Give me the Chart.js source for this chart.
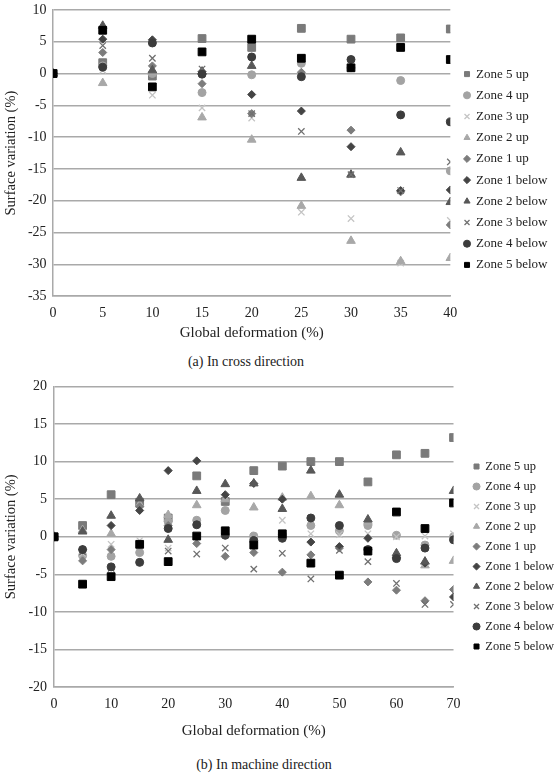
<!DOCTYPE html>
<html>
<head>
<meta charset="utf-8">
<script src="https://cdn.jsdelivr.net/npm/chart.js@4/dist/chart.umd.min.js"></script>
<style>
  body { margin: 0; background: #fff; width: 556px; height: 773px; position: relative; overflow: hidden; }
  .box { position: absolute; left: 0; width: 556px; }
  .caption { position: absolute; font-family: 'Liberation Serif', serif; font-size: 14px; color: #222; white-space: nowrap; transform: translateX(-50%); }
</style>
</head>
<body>
<div class="box" style="top:-5px;height:349px"><canvas id="crossChart"></canvas></div>
<div class="caption" style="left:246px;top:354px">(a) In cross direction</div>
<div class="box" style="top:371px;height:371px"><canvas id="machineChart"></canvas></div>
<div class="caption" style="left:264px;top:757px">(b) In machine direction</div>
<script>
const zoneNames = ['Zone 5 up', 'Zone 4 up', 'Zone 3 up', 'Zone 2 up', 'Zone 1 up',
    'Zone 1 below', 'Zone 2 below', 'Zone 3 below', 'Zone 4 below', 'Zone 5 below'];

// (a) cross direction
const crossX = [0, 5, 10, 15, 20, 25, 30, 35, 40];
const crossZone5Up    = [0, 1.7, -0.4, 5.5, 4.1, 7.1, 5.4, 5.6, 7.0];
const crossZone4Up    = [0, 1.2, 0.0, -3.0, -0.2, 1.6, 0.9, -1.1, -15.3];
const crossZone3Up    = [0, 0.5, -3.4, -5.4, -7.0, -21.8, -22.8, -29.8, -23.1];
const crossZone2Up    = [0, -1.5, 0.2, -6.9, -10.4, -20.8, -26.3, -29.5, -29.0];
const crossZone1Up    = [0, 3.3, 1.2, -1.6, -6.3, 0.2, -8.9, -18.6, -23.8];
const crossZone1Below = [0, 5.4, 5.3, 0.3, -3.3, -5.9, -11.5, -18.4, -18.3];
const crossZone2Below = [0, 7.5, 0.5, 0.3, 1.2, -16.4, -15.9, -12.4, -20.2];
const crossZone3Below = [0, 4.4, 2.4, 0.7, -6.3, -9.1, -15.9, -18.4, -13.9];
const crossZone4Below = [0, 1.0, 4.8, -0.1, 2.6, -0.5, 2.2, -6.5, -7.6];
const crossZone5Below = [0, 6.8, -2.1, 3.4, 5.4, 2.4, 0.9, 4.1, 2.2];

// (b) machine direction
const machineX = [0, 5, 10, 15, 20, 25, 30, 35, 40, 45, 50, 55, 60, 65, 70];
const machineZone5Up    = [0, 1.5, 5.6, 4.6, 2.5, 8.1, 4.7, 8.8, 9.4, 10.0, 10.0, 7.3, 10.9, 11.1, 13.2];
const machineZone4Up    = [0, -2.5, -2.6, -2.1, 2.0, 2.2, 3.5, 0.1, 0.3, 1.5, 0.8, 1.5, 0.2, -1.1, 0.0];
const machineZone3Up    = [0, -2.2, -1.0, -0.5, -1.5, -0.5, 0.5, -0.3, 2.2, 0.4, 0.3, 0.4, 0.0, 0.1, 0.4];
const machineZone2Up    = [0, 0.9, 0.4, 4.3, 2.9, 4.2, 5.0, 3.9, 5.2, 5.4, 4.2, 2.0, -2.5, -3.8, -3.2];
const machineZone1Up    = [0, -3.2, -1.7, 4.0, 1.5, -0.9, -2.6, -2.1, -4.7, -2.4, -1.5, -6.0, -7.1, -8.5, -7.0];
const machineZone1Below = [0, -1.7, 1.5, 3.5, 8.8, 10.1, 5.6, 7.1, 5.0, -0.7, -1.3, -0.2, -2.8, -3.5, -8.0];
const machineZone2Below = [0, 0.7, 2.8, 5.1, -0.4, 6.1, 7.0, 7.1, 3.7, 8.8, 5.6, 2.3, -2.2, -3.3, 6.1];
const machineZone3Below = [0, -2.0, -4.2, -1.0, -1.9, -2.3, -1.5, -4.3, -2.2, -5.6, -1.8, -3.3, -6.2, -9.0, -9.0];
const machineZone4Below = [0, -1.7, -4.0, -3.4, 1.1, 1.6, 0.2, -0.5, -0.2, 2.5, 1.5, -1.7, -2.9, -1.5, -0.4];
const machineZone5Below = [0, -6.3, -5.3, -1.0, -3.3, 0.1, 0.8, -1.1, 0.4, -3.5, -5.1, -1.9, 3.3, 1.1, 4.5];

// marker look per zone, same order as zoneNames
const markers = [
    { style: 'rect',     color: '#7a7a7a', r: 5.5 },
    { style: 'circle',   color: '#a3a3a3', r: 4 },
    { style: 'crossRot', color: '#c4c4c4', r: 4.5 },
    { style: 'triangle', color: '#a8a8a8', r: 5 },
    { style: 'rectRot',  color: '#7c7c7c', r: 4 },
    { style: 'rectRot',  color: '#444444', r: 4 },
    { style: 'triangle', color: '#585858', r: 5 },
    { style: 'crossRot', color: '#707070', r: 4.5 },
    { style: 'circle',   color: '#3c3c3c', r: 4 },
    { style: 'rect',     color: '#000000', r: 5.5 }
];

const serif = "'Liberation Serif', 'Times New Roman', serif";
const gridColor = '#a9a9a9';

// nudge the legend right, away from the plot, after layout
const legendShift = {
    id: 'legendShift',
    afterLayout(chart, args, opts) {
        chart.legend.left += opts.dx;
        chart.legend.right += opts.dx;
    }
};

function buildDatasets(xs, series) {
    return series.map((vals, i) => ({
        label: zoneNames[i],
        data: vals.map((v, j) => ({ x: xs[j], y: v })),
        pointStyle: markers[i].style,
        pointRadius: markers[i].r,
        backgroundColor: markers[i].color,
        borderColor: markers[i].color,
        borderWidth: markers[i].style === 'crossRot' ? 1.3 : 1,
        showLine: false,
        order: 10 - i
    }));
}

function makeChart(id, xs, series, cfg) {
    new Chart(document.getElementById(id), {
        type: 'scatter',
        data: { datasets: buildDatasets(xs, series) },
        plugins: [legendShift],
        options: {
            responsive: true,
            maintainAspectRatio: false,
            animation: false,
            layout: { padding: { top: 0, right: cfg.padRight, bottom: 0, left: 0 } },
            plugins: {
                tooltip: { enabled: false },
                legendShift: { dx: cfg.legendDx },
                legend: {
                    position: 'right',
                    align: 'center',
                    labels: {
                        usePointStyle: true,
                        boxWidth: 5,
                        boxHeight: 5,
                        padding: cfg.legendPad,
                        color: '#222',
                        font: { family: serif, size: cfg.legendFont },
                        sort: (a, b) => a.datasetIndex - b.datasetIndex
                    }
                }
            },
            scales: {
                x: {
                    type: 'linear',
                    min: cfg.xMin, max: cfg.xMax,
                    afterFit: s => { s.height -= 7; },
                    grid: { display: false, drawTicks: false },
                    border: { display: true, color: gridColor, width: 1.5 },
                    ticks: { stepSize: cfg.xStep, color: '#222', padding: 9, font: { family: serif, size: 14 } },
                    title: { display: true, text: 'Global deformation (%)', color: '#222',
                             padding: { top: cfg.titleTop, bottom: 2 }, font: { family: serif, size: 15 } }
                },
                y: {
                    min: cfg.yMin, max: cfg.yMax,
                    grid: { color: gridColor, lineWidth: 1.5, drawTicks: false },
                    border: { display: true, color: gridColor, width: 1.5 },
                    ticks: { stepSize: 5, color: '#222', padding: cfg.yPad, font: { family: serif, size: 14 } },
                    title: { display: true, text: 'Surface variation (%)', color: '#222',
                             padding: { top: 2, bottom: 2 }, font: { family: serif, size: 14.5 } }
                }
            }
        }
    });
}

makeChart('crossChart', crossX,
    [crossZone5Up, crossZone4Up, crossZone3Up, crossZone2Up, crossZone1Up,
     crossZone1Below, crossZone2Below, crossZone3Below, crossZone4Below, crossZone5Below],
    { xMin: 0, xMax: 40, xStep: 5, yMin: -35, yMax: 10, titleTop: 0, yPad: 6.5,
      padRight: 4.5, legendDx: 6, legendPad: 8.2, legendFont: 13 });

makeChart('machineChart', machineX,
    [machineZone5Up, machineZone4Up, machineZone3Up, machineZone2Up, machineZone1Up,
     machineZone1Below, machineZone2Below, machineZone3Below, machineZone4Below, machineZone5Below],
    { xMin: 0, xMax: 70, xStep: 10, yMin: -20, yMax: 20, titleTop: 7, yPad: 7,
      padRight: 5, legendDx: 13, legendPad: 7.5, legendFont: 12.5 });
</script>
</body>
</html>
